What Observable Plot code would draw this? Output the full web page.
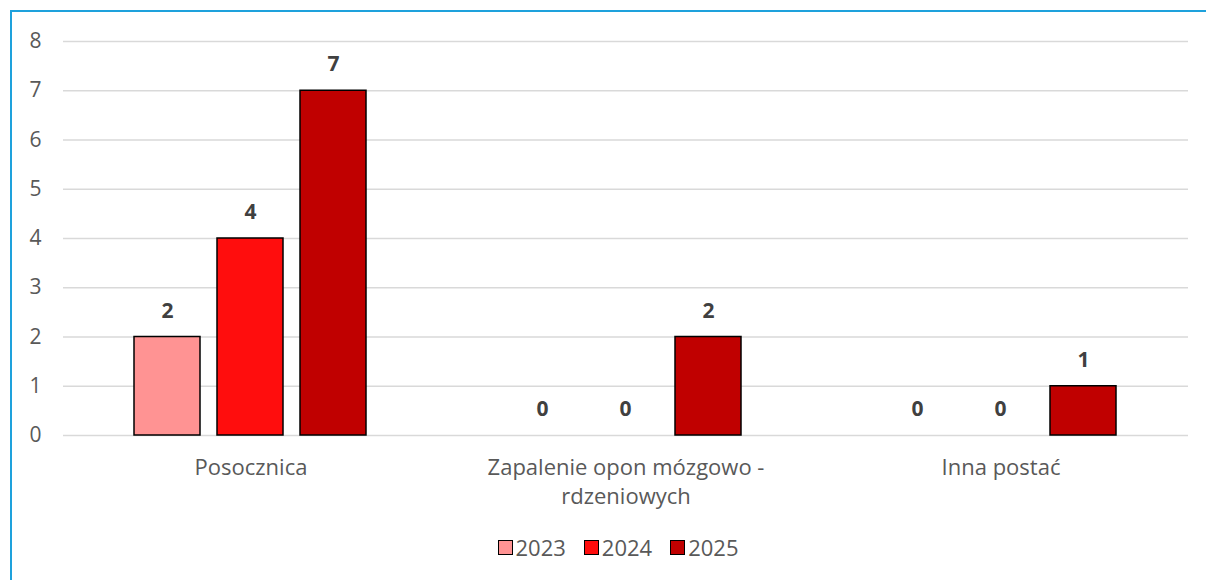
<!DOCTYPE html>
<html><head><meta charset="utf-8">
<script src="https://cdn.jsdelivr.net/npm/d3@7"></script>
<script src="https://cdn.jsdelivr.net/npm/@observablehq/plot@0.6"></script>
<style>
body{margin:0;background:#fff;width:1206px;height:580px;overflow:hidden;position:relative;font-family:"Open Sans",sans-serif;}
#frame{position:absolute;left:10px;top:10px;width:1300px;height:700px;border-top:2px solid #1ea1dc;border-left:2px solid #1ea1dc;}
#chart{position:absolute;left:0;top:0;}
#legend{position:absolute;top:532px;left:0;width:1236px;display:flex;justify-content:center;gap:18px;color:#595959;font-size:22px;}
.item{display:flex;align-items:center;gap:3px;}
.sw{width:13px;height:13px;border:1.5px solid #000;display:inline-block;}
</style></head>
<body>
<div id="frame"></div>
<div id="chart"></div>
<div id="legend"></div>
<script>
const categories = ["Posocznica", "Zapalenie opon mózgowo - rdzeniowych", "Inna postać"];
const years = ["2023", "2024", "2025"];
const colors = ["#ff9393", "#ff0d0d", "#c00000"];
const v2023 = [2, 0, 0];
const v2024 = [4, 0, 0];
const v2025 = [7, 2, 1];
const yTicks = [0, 1, 2, 3, 4, 5, 6, 7, 8];

const series = [v2023, v2024, v2025];
const data = [];
categories.forEach((c, i) => years.forEach((y, j) => data.push({cat: c, year: y, value: series[j][i]})));

const chart = Plot.plot({
  width: 1206,
  height: 510,
  marginLeft: 62,
  marginRight: 17,
  marginTop: 41,
  marginBottom: 75,
  style: {fontFamily: "'Open Sans', sans-serif", fontSize: "21px", color: "#595959", background: "transparent"},
  fx: {domain: categories, padding: 0, label: null},
  x: {domain: years, paddingInner: 0.2, paddingOuter: 0.85, axis: null},
  y: {domain: [0, 8], label: null},
  color: {domain: years, range: colors},
  marks: [
    Plot.gridY(yTicks, {stroke: "#d9d9d9", strokeOpacity: 1, strokeWidth: 1.5}),
    Plot.axisY({ticks: yTicks, tickSize: 0, tickPadding: 22, fontSize: 21, fill: "#595959", label: null}),
    Plot.axisFx({anchor: "bottom", tickSize: 0, tickPadding: 19, fontSize: 22, lineHeight: 1.32, fill: "#595959", label: null,
      tickFormat: d => d.replace("mózgowo - ", "mózgowo -\n")}),
    Plot.barY(data, {fx: "cat", x: "year", y: "value", fill: "year", stroke: "#000", strokeWidth: 1.5,
      filter: d => d.value > 0}),
    Plot.text(data, {fx: "cat", x: "year", y: "value", text: d => String(d.value), dy: -26,
      fontWeight: "bold", fontSize: 21, fill: "#404040"})
  ]
});
document.getElementById("chart").appendChild(chart);

const legend = document.getElementById("legend");
years.forEach((y, i) => {
  const it = document.createElement("div");
  it.className = "item";
  it.innerHTML = `<span class="sw" style="background:${colors[i]}"></span><span>${y}</span>`;
  legend.appendChild(it);
});
</script>
</body></html>
